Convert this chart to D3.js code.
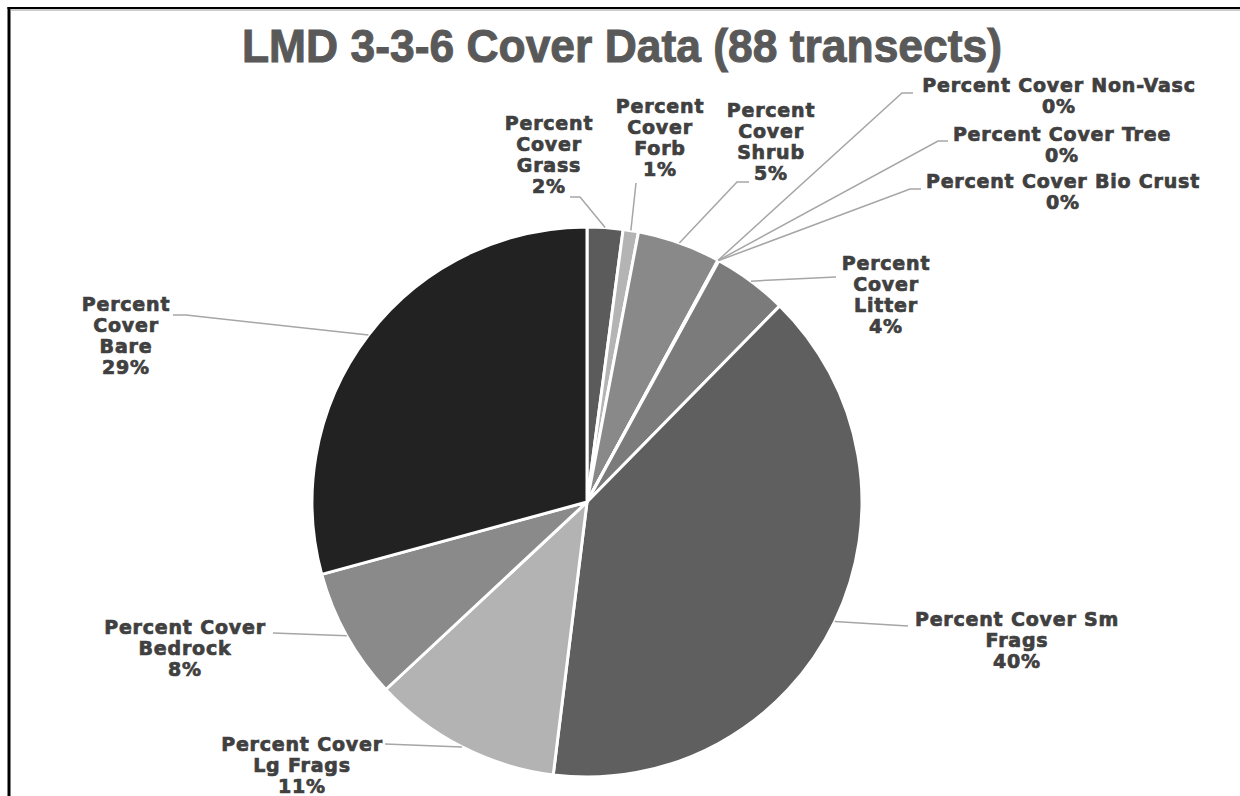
<!DOCTYPE html>
<html>
<head>
<meta charset="utf-8">
<script src="https://cdn.jsdelivr.net/npm/d3@7/dist/d3.min.js"></script>
<style>
  html, body { margin: 0; padding: 0; background: #fff; }
  svg { display: block; }
  .lbl { font-family: "DejaVu Sans", sans-serif; font-weight: bold; font-size: 19px; letter-spacing: 0.8px; fill: #404040; stroke: #404040; stroke-width: 0.7px; }
  .title { font-family: "Liberation Sans Narrow", "Liberation Sans", Arial, sans-serif; font-weight: bold; font-size: 47px; fill: #595959; stroke: #595959; stroke-width: 1px; }
</style>
</head>
<body>
<script>
// Cover categories, in drawing order (clockwise from 12 o'clock)
const categories = [
  "Percent Cover Grass", "Percent Cover Forb", "Percent Cover Shrub",
  "Percent Cover Non-Vasc", "Percent Cover Tree", "Percent Cover Bio Crust",
  "Percent Cover Litter", "Percent Cover Sm Frags", "Percent Cover Lg Frags",
  "Percent Cover Bedrock", "Percent Cover Bare"
];
// Mean percent cover across 88 transects
const coverValues = [2.1, 0.9, 4.9, 0.02, 0.01, 0.03, 4.4, 39.6, 11.1, 7.7, 29.24];
// Label line breaks for each category
const labelLines = [
  ["Percent", "Cover", "Grass"],
  ["Percent", "Cover", "Forb"],
  ["Percent", "Cover", "Shrub"],
  ["Percent Cover Non-Vasc"],
  ["Percent Cover Tree"],
  ["Percent Cover Bio Crust"],
  ["Percent", "Cover", "Litter"],
  ["Percent Cover Sm", "Frags"],
  ["Percent Cover", "Lg Frags"],
  ["Percent Cover", "Bedrock"],
  ["Percent", "Cover", "Bare"]
];
const sliceColors = ["#5b5b5b", "#b4b4b4", "#898989", "#3e3e3e", "#969696", "#6e6e6e",
                     "#7b7b7b", "#5f5f5f", "#b3b3b3", "#8a8a8a", "#222222"];
const titleText = "LMD 3-3-6 Cover Data (88 transects)";

// Label placement: text center x, first baseline y, and leader elbow points
const labelLayout = [
  { x: 549,  y: 130, leader: [[570, 197], [580, 197]] },
  { x: 660,  y: 113, leader: [[636, 183]] },
  { x: 771,  y: 117, leader: [[749, 182], [737, 182]] },
  { x: 1059, y: 92,  leader: [[913, 93], [902, 93]] },
  { x: 1062, y: 141, leader: [[948, 141], [938, 141]] },
  { x: 1063, y: 188, leader: [[921, 189], [910, 189]] },
  { x: 886,  y: 270, leader: [[836, 277]] },
  { x: 1017, y: 626, leader: [[908, 626]] },
  { x: 302,  y: 751, leader: [[385, 744]] },
  { x: 185,  y: 634, leader: [[273, 633]] },
  { x: 126,  y: 311, leader: [[173, 315], [186, 315]] }
];

const W = 1240, H = 796;
const cx = 587, cy = 502, R = 275, lineH = 21;

const svg = d3.select("body").append("svg").attr("width", W).attr("height", H);

// Chart frame (left and top rules)
svg.append("line").attr("x1", 9).attr("y1", 7).attr("x2", 9).attr("y2", H)
  .attr("stroke", "#000").attr("stroke-width", 3);
svg.append("line").attr("x1", 7.5).attr("y1", 8).attr("x2", W).attr("y2", 8)
  .attr("stroke", "#000").attr("stroke-width", 2);
svg.append("line").attr("x1", 10.5).attr("y1", 10).attr("x2", W).attr("y2", 10)
  .attr("stroke", "#9a9a9a").attr("stroke-width", 1);

// Title
svg.append("text").attr("class", "title")
  .attr("x", 622).attr("y", 62).attr("text-anchor", "middle")
  .attr("textLength", 760).attr("lengthAdjust", "spacingAndGlyphs")
  .text(titleText);

const data = categories.map((c, i) => ({ name: c, value: coverValues[i], i }));
const total = d3.sum(coverValues);

const pie = d3.pie().sort(null).value(d => d.value).startAngle(0).endAngle(2 * Math.PI);
const arcs = pie(data);
const arc = d3.arc().innerRadius(0).outerRadius(R);

const g = svg.append("g").attr("transform", `translate(${cx},${cy})`);

g.selectAll("path.slice").data(arcs).enter().append("path")
  .attr("class", "slice")
  .attr("d", arc)
  .attr("fill", d => sliceColors[d.data.i])
  .attr("stroke", "#fff").attr("stroke-width", 3).attr("stroke-linejoin", "round");

// Leader lines: from label elbow to the slice's outer edge at its mid-angle
const line = d3.line();
arcs.forEach(a => {
  const mid = (a.startAngle + a.endAngle) / 2;
  const edge = [cx + R * Math.sin(mid), cy - R * Math.cos(mid)];
  const pts = labelLayout[a.data.i].leader.concat([edge]);
  svg.append("path").attr("d", line(pts))
    .attr("fill", "none").attr("stroke", "#a6a6a6").attr("stroke-width", 1.5);
});

// Data labels
arcs.forEach(a => {
  const i = a.data.i;
  const lay = labelLayout[i];
  const pct = Math.round(a.data.value / total * 100) + "%";
  const lines = labelLines[i].concat([pct]);
  const t = svg.append("text").attr("class", "lbl").attr("text-anchor", "middle");
  lines.forEach((s, k) => {
    t.append("tspan").attr("x", lay.x).attr("y", lay.y + k * lineH).text(s);
  });
});
</script>
</body>
</html>
